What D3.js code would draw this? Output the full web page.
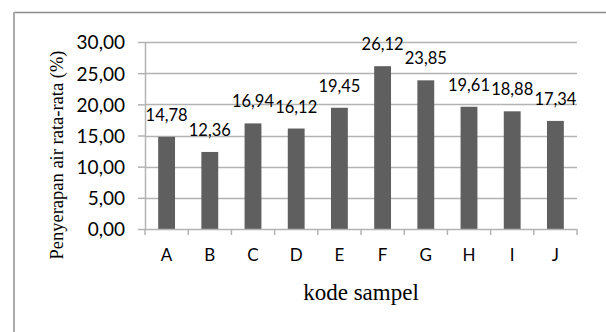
<!DOCTYPE html>
<html><head><meta charset="utf-8">
<script src="https://cdn.jsdelivr.net/npm/d3@7"></script>
<style>html,body{margin:0;padding:0;background:#fff;}</style>
</head><body>
<svg id="c" width="606" height="332"></svg>
<script>
const categories = ["A","B","C","D","E","F","G","H","I","J"];
const values = [14.78,12.36,16.94,16.12,19.45,26.12,23.85,19.61,18.88,17.34];
const yTicks = [0,5,10,15,20,25,30];
const yTitle = "Penyerapan air rata-rata (%)";
const xTitle = "kode sampel";

const svg = d3.select("#c");
const m = {left:145, right:577, top:42, bottom:229};
const fmt = v => d3.format(".2f")(v).replace(".", ",");
const sans = "Lato, 'Open Sans', sans-serif";

const x = d3.scaleBand().domain(categories).range([m.left, m.right]).paddingInner(0.61).paddingOuter(0.305);
const xb = d3.scaleBand().domain(categories).range([m.left, m.right]);
const y = d3.scaleLinear().domain([0,30]).range([m.bottom, m.top]);

// outer frame
svg.append("line").attr("x1",14).attr("x2",606).attr("y1",12.5).attr("y2",12.5).attr("stroke","#8c8c8c").attr("stroke-width",1.5);
svg.append("line").attr("x1",14).attr("x2",14).attr("y1",12).attr("y2",332).attr("stroke","#ababab").attr("stroke-width",2);

// gridlines
svg.append("g").selectAll("line").data(yTicks.filter(d=>d>0)).join("line")
  .attr("x1",m.left).attr("x2",m.right).attr("y1",d=>Math.round(y(d))+0.5).attr("y2",d=>Math.round(y(d))+0.5)
  .attr("stroke","#b3b3b3").attr("stroke-width",1.5);

// y axis
const ya = svg.append("g").attr("transform",`translate(${m.left},0)`)
  .call(d3.axisLeft(y).tickValues(yTicks).tickFormat(fmt).tickSize(7).tickPadding(13));
ya.select(".domain").attr("stroke","#b3b3b3").attr("stroke-width",1.5).attr("d",`M0.5,${m.top}V${m.bottom}`);
ya.selectAll(".tick line").attr("stroke","#b3b3b3").attr("stroke-width",1.5);
ya.selectAll("text").attr("font-family",sans).attr("font-size",19).attr("fill","#000").attr("dy","0.36em");

// bars
svg.append("g").selectAll("rect").data(values).join("rect")
  .attr("x",(d,i)=>x(categories[i])).attr("width",x.bandwidth())
  .attr("y",d=>y(d)).attr("height",d=>m.bottom - y(d)).attr("fill","#5f5f5f");

// x axis
const xa = svg.append("g").attr("transform",`translate(0,${m.bottom})`)
  .call(d3.axisBottom(xb).tickSize(0).tickPadding(20));
xa.select(".domain").attr("stroke","#b3b3b3").attr("stroke-width",1.5).attr("d",`M${m.left},0.5H${m.right}`);
xa.selectAll("text").attr("font-family",sans).attr("font-size",17).attr("fill","#000");
// category separator ticks
const sep = categories.map(c=>xb(c)).concat([m.right]);
svg.append("g").selectAll("line").data(sep).join("line")
  .attr("x1",d=>d).attr("x2",d=>d).attr("y1",m.bottom).attr("y2",m.bottom+6)
  .attr("stroke","#b3b3b3").attr("stroke-width",1.5);

// data labels
svg.append("g").selectAll("text").data(values).join("text")
  .attr("x",(d,i)=>xb(categories[i])+xb.bandwidth()/2).attr("y",d=>y(d)-16)
  .attr("text-anchor","middle").attr("font-family",sans).attr("font-size",16.5).attr("fill","#000")
  .text(d=>fmt(d));

// titles
svg.append("text").attr("x",(m.left+m.right)/2).attr("y",300).attr("text-anchor","middle")
  .attr("font-family","'Liberation Serif', 'Times New Roman', serif").attr("font-size",23).text(xTitle);
svg.append("text").attr("transform","translate(63,155) rotate(-90)").attr("text-anchor","middle")
  .attr("font-family","'Liberation Serif', 'Times New Roman', serif").attr("font-size",18.5).text(yTitle);
</script>
</body></html>
